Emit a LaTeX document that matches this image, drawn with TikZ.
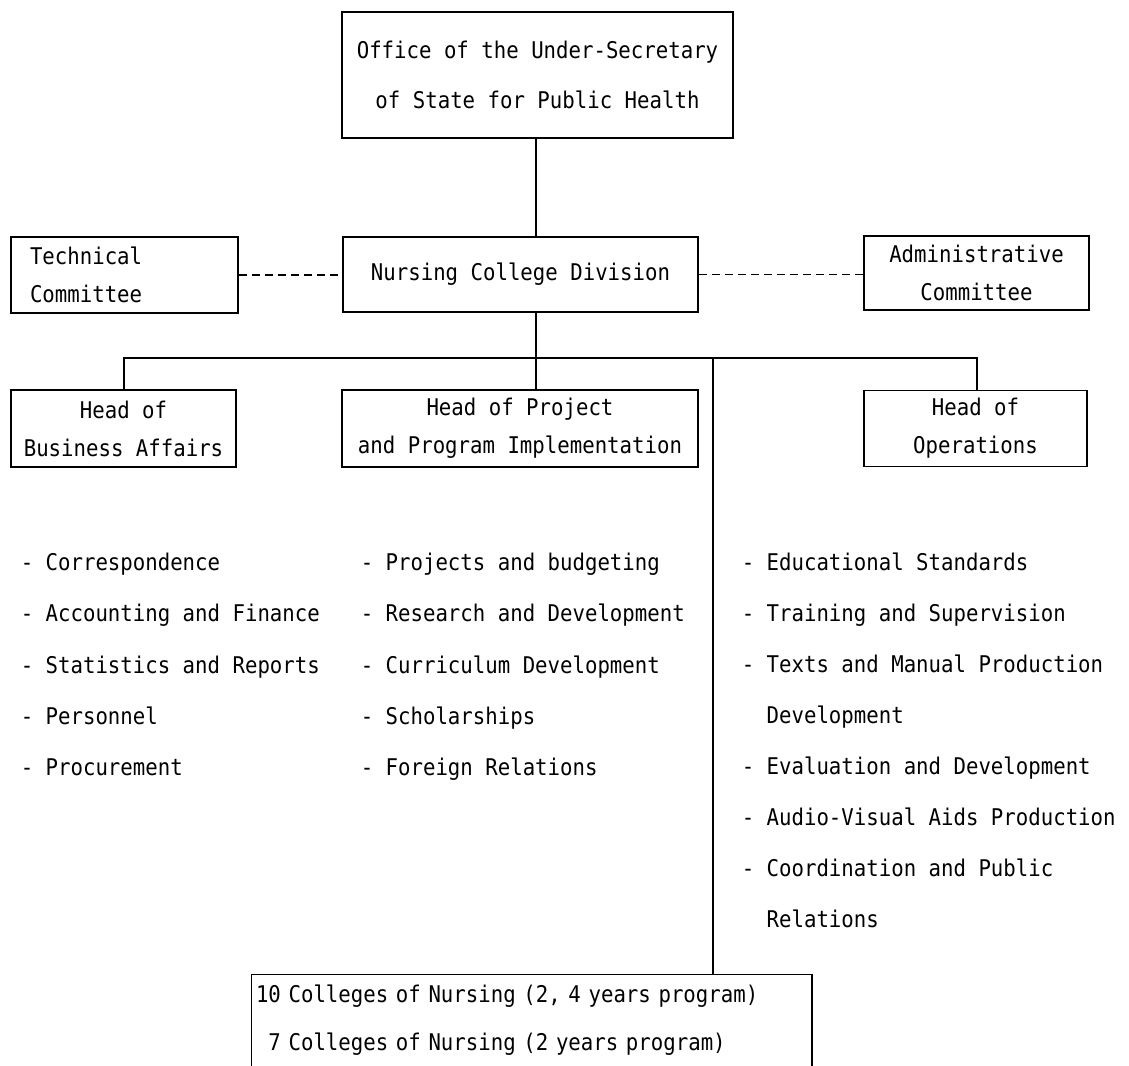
\documentclass[tikz,border=0pt]{standalone}
\usepackage{fontspec}
\newfontfamily\tw[FakeStretch=0.9]{DejaVu Sans Mono}
\begin{document}
\begin{tikzpicture}[x=1pt,y=-1pt,line width=1.5pt,
  box/.style={draw, rectangle, inner sep=0pt, align=center, font=\tw\fontsize{23}{38}\selectfont},
  item/.style={anchor=base west, inner sep=0pt, font=\tw\fontsize{23}{28}\selectfont},
  dashlink/.style={dash pattern=on 8pt off 5pt, line width=1.3pt},
  link/.style={line width=1.5pt}]
\useasboundingbox[fill=white] (0,0) rectangle (1129,1065);

% boxes
\node[box, minimum width=391pt, minimum height=126pt] (office) at (537.5,75)
  {Office of the Under-Secretary\\[12pt]of State for Public Health};
\node[box, minimum width=227pt, minimum height=76pt, text width=189pt, align=left] (tech) at (124.5,275)
  {Technical\\Committee};
\node[box, minimum width=355pt, minimum height=75pt] (nursing) at (520.5,274.5)
  {Nursing College Division};
\node[box, minimum width=225pt, minimum height=74pt] (admin) at (976.5,273)
  {Administrative\\Committee};
\node[box, minimum width=225pt, minimum height=77pt] (business) at (123.5,428.5)
  {Head of\\Business Affairs};
\node[box, minimum width=356pt, minimum height=77pt] (project) at (520,428.5)
  {Head of Project\\and Program Implementation};
\node[box, minimum width=223pt, minimum height=76pt] (ops) at (975.5,428.5)
  {Head of\\Operations};
\node[box, draw=none, minimum width=559pt, minimum height=90pt, text width=551pt, align=left] (colleges) at (531.5,1020)
  {10 Colleges of Nursing (2, 4 years program)\\[10pt]\hphantom{1}7 Colleges of Nursing (2 years program)};
\draw[link] (colleges.south west) -- (colleges.north west) -- (colleges.north east) -- (colleges.south east);

% connectors
\coordinate (stem) at (536,358);
\coordinate (busL) at (124,358);
\coordinate (busR) at (977,358);
\coordinate (busM) at (713,358);
\draw[link] (office.south -| stem) -- (nursing.north -| stem);
\draw[link] (nursing.south -| stem) -- (project.north -| stem);
\draw[link] (business.north -| busL) |- (busR) -- (ops.north -| busR);
\draw[link] (busM) -- (colleges.north -| busM);
\draw[dashlink] (tech.east) -- (tech.east -| nursing.west);
\draw[dashlink] (nursing.east) -- (nursing.east -| admin.west);

% business affairs list
\node[item] (b1) at (20,570) {- Correspondence};
\node[item] (b2) at (20,621) {- Accounting and Finance};
\node[item] (b3) at (20,673) {- Statistics and Reports};
\node[item] (b4) at (20,724) {- Personnel};
\node[item] (b5) at (20,775) {- Procurement};

% project list
\node[item] (p1) at (360,570) {- Projects and budgeting};
\node[item] (p2) at (360,621) {- Research and Development};
\node[item] (p3) at (360,673) {- Curriculum Development};
\node[item] (p4) at (360,724) {- Scholarships};
\node[item] (p5) at (360,775) {- Foreign Relations};

% operations list
\node[item] (o1) at (741,570) {- Educational Standards};
\node[item] (o2) at (741,621) {- Training and Supervision};
\node[item] (o3) at (741,672) {- Texts and Manual Production};
\node[item] (o4) at (741,723) {\hphantom{- }Development};
\node[item] (o5) at (741,774) {- Evaluation and Development};
\node[item] (o6) at (741,825) {- Audio-Visual Aids Production};
\node[item] (o7) at (741,876) {- Coordination and Public};
\node[item] (o8) at (741,927) {\hphantom{- }Relations};
\end{tikzpicture}
\end{document}
